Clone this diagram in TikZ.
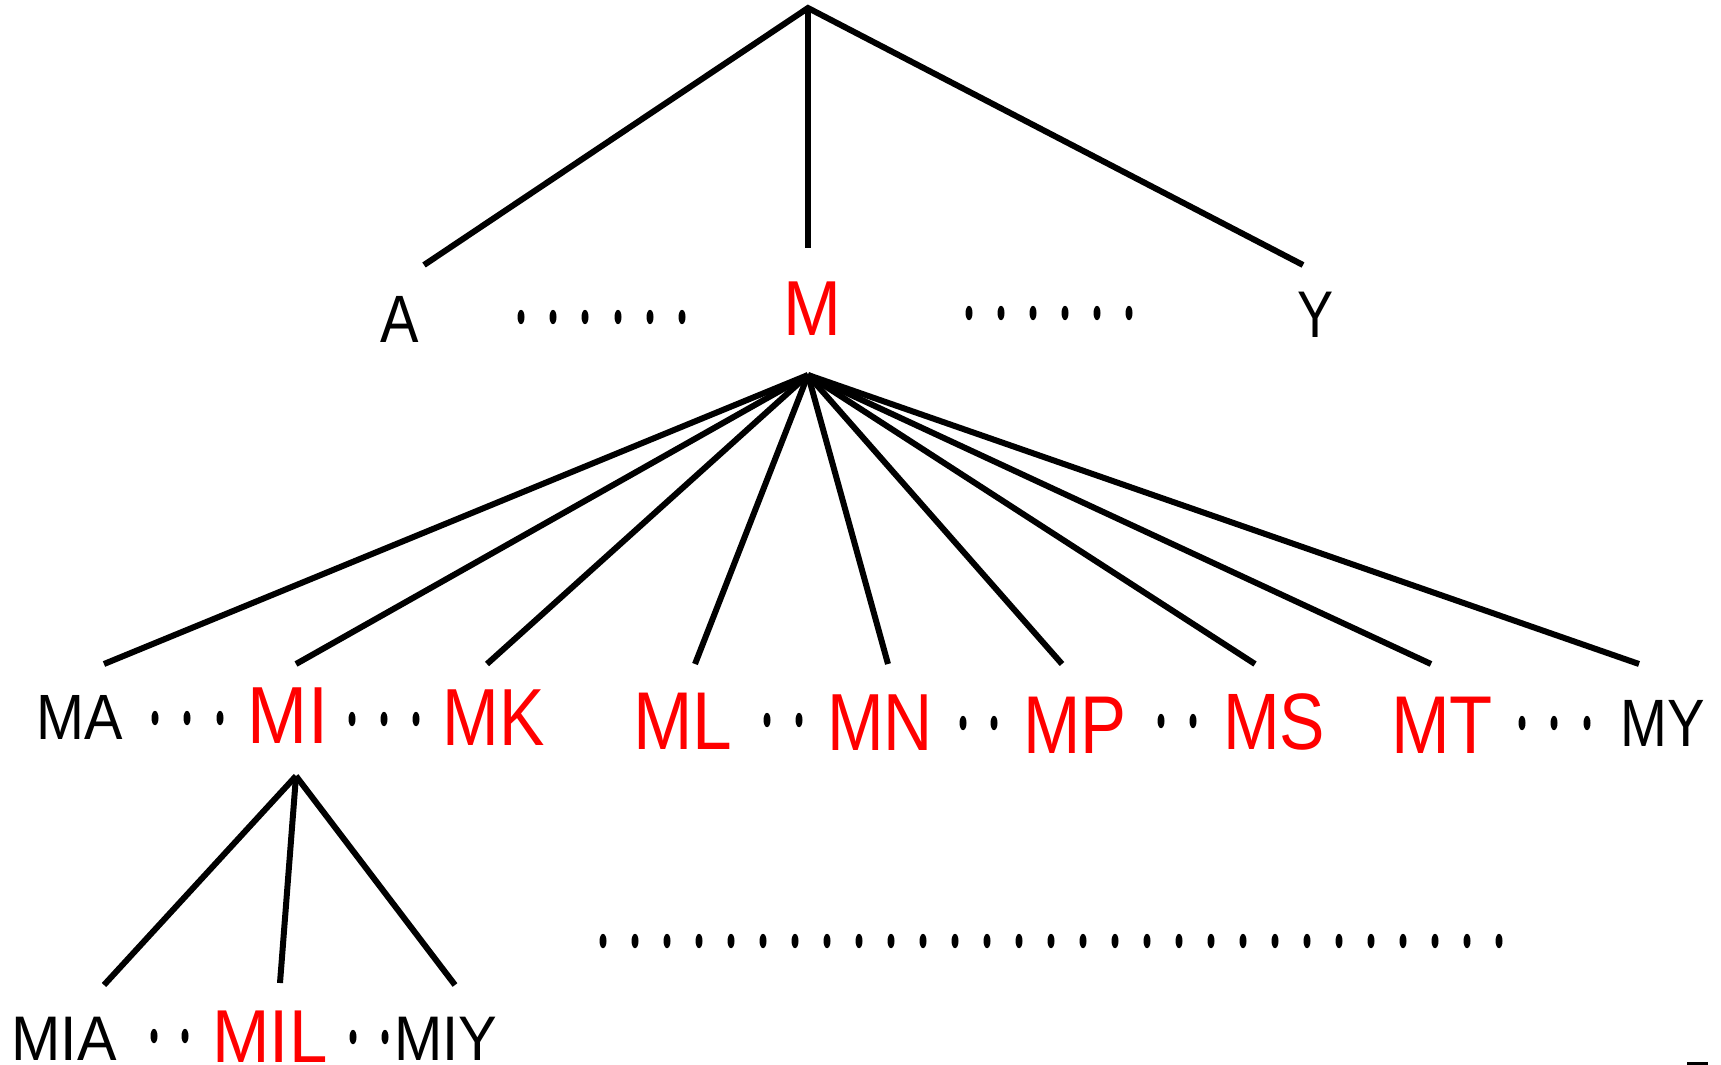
\documentclass[tikz,border=0pt]{standalone}
\usepackage{fontspec}
\setmainfont{Liberation Sans}
\definecolor{hl}{RGB}{255,0,0}
% horizontally narrowed label text
\newcommand{\narrow}[2][0.86]{\scalebox{#1}[1]{#2}}
\tikzset{
  edge/.style={line width=6pt, line join=miter},
  lab/.style={inner sep=0pt, anchor=base},
  blk/.style={lab, text=black, font=\fontsize{65}{65}\selectfont},
  hot/.style={lab, text=hl, font=\fontsize{81}{81}\selectfont},
}
% one small upright dot of an ellipsis
\newcommand{\elldot}[1]{\fill #1 ellipse [x radius=3.5, y radius=7.2];}
\begin{document}
\begin{tikzpicture}[x=1pt, y=-1pt]
\useasboundingbox (0,0) rectangle (1721,1065);

% ---- labels ----
\node[blk, font=\fontsize{67}{67}\selectfont] (A) at (400,342) {\narrow{A}};
\node[hot, font=\fontsize{78}{78}\selectfont] (M) at (812,335) {\narrow[0.89]{M}};
\node[blk, font=\fontsize{66}{66}\selectfont] (Y) at (1316,337) {\narrow[0.82]{Y}};

\node[blk, font=\fontsize{64}{64}\selectfont] (MA) at (80,739) {\narrow[0.9]{MA}};
\node[hot] (MI) at (288,743) {\narrow[0.89]{MI}};
\node[hot] (MK) at (494,745) {\narrow[0.84]{MK}};
\node[hot, font=\fontsize{82}{82}\selectfont] (ML) at (683,749) {\narrow[0.87]{ML}};
\node[hot] (MN) at (880,750) {\narrow[0.84]{MN}};
\node[hot, font=\fontsize{82}{82}\selectfont] (MP) at (1075,753) {\narrow[0.84]{MP}};
\node[hot, font=\fontsize{80}{80}\selectfont] (MS) at (1274,749) {\narrow[0.85]{MS}};
\node[hot, font=\fontsize{82}{82}\selectfont] (MT) at (1442,753) {\narrow[0.86]{MT}};
\node[blk, font=\fontsize{67}{67}\selectfont] (MY) at (1663,746) {\narrow[0.84]{MY}};

\node[blk, font=\fontsize{63}{63}\selectfont] (MIA) at (64,1060) {\narrow[0.94]{MIA}};
\node[hot, font=\fontsize{75}{75}\selectfont] (MIL) at (270,1062) {\narrow[0.92]{MIL}};
\node[blk, font=\fontsize{63}{63}\selectfont] (MIY) at (446,1060) {\narrow[0.92]{MIY}};

% ---- branch points and line ends ----
\coordinate (root) at (808,8);
\coordinate (tA) at (424,265);
\coordinate (tM) at (808,248);
\coordinate (tY) at (1303,265);

\coordinate (mb) at (808,375);
\coordinate (tMA) at (104,664);
\coordinate (tMI) at (296,664);
\coordinate (tMK) at (487,664);
\coordinate (tML) at (695,664);
\coordinate (tMN) at (888,664);
\coordinate (tMP) at (1062,664);
\coordinate (tMS) at (1255,664);
\coordinate (tMT) at (1431,664);
\coordinate (tMY) at (1639,664);

\coordinate (ib) at (296,776);
\coordinate (tMIA) at (104,985);
\coordinate (tMIL) at (280,983);
\coordinate (tMIY) at (455,985);

% ---- connectors ----
\draw[edge] (tA) -- (root) -- (tY);
\draw[edge] (root) -- (tM);
\foreach \t in {tMA,tMI,tMK,tML,tMN,tMP,tMS,tMT,tMY}
  {\draw[edge] (mb) -- (\t);}
\foreach \t in {tMIA,tMIL,tMIY}
  {\draw[edge] (ib) -- (\t);}

% ---- ellipses between labels ----
\foreach \x in {521,553,585,618,650,682} {\elldot{(\x,317)}}
\foreach \x in {969,1001,1033,1065,1097,1129} {\elldot{(\x,313)}}

\foreach \x in {155,187,220} {\elldot{(\x,718)}}
\foreach \x in {352,384,416} {\elldot{(\x,719)}}
\foreach \x in {767,799} {\elldot{(\x,720)}}
\foreach \x in {963,994} {\elldot{(\x,723)}}
\foreach \x in {1161,1193} {\elldot{(\x,721)}}
\foreach \x in {1522,1554,1587} {\elldot{(\x,723)}}

\foreach \x in {154,185} {\elldot{(\x,1036)}}
\foreach \x in {353,385} {\elldot{(\x,1037)}}

\foreach \i in {0,...,28} {\elldot{(603+32*\i,941)}}

% short bar in the lower right corner
\fill (1687,1062) rectangle (1708,1065);
\end{tikzpicture}
\end{document}
